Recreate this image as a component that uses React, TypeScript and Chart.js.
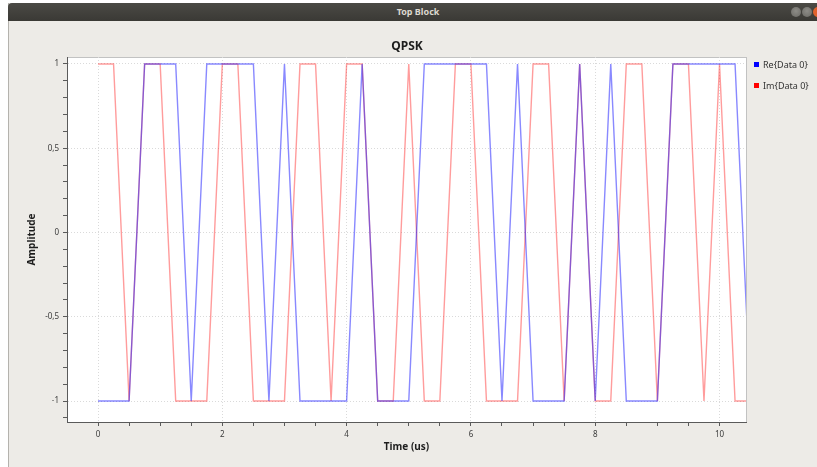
import React, { useEffect, useRef } from 'react';
import { Chart, registerables } from 'chart.js';

Chart.register(...registerables);

// ---- data ----
const SAMPLE_PERIOD_US = 0.25;
const RE_DATA = [
  -1, -1, -1, 1, 1, 1, -1, 1, 1, 1, 1, -1, 1, -1, -1, -1, -1, 1, -1, -1, -1,
  1, 1, 1, 1, 1, -1, 1, -1, -1, -1, 1, -1, 1, -1, -1, -1, 1, 1, 1, 1, 1, -1,
];
const IM_DATA = [
  1, 1, -1, 1, 1, -1, -1, -1, 1, 1, -1, -1, -1, 1, 1, -1, 1, 1, -1, -1, 1,
  -1, -1, 1, 1, -1, -1, -1, 1, 1, -1, 1, -1, -1, 1, 1, -1, 1, 1, -1, 1, -1, -1,
];
const SERIES_LABELS = ['Re{Data 0}', 'Im{Data 0}'];
const X_TICKS = [0, 0.5, 1, 1.5, 2, 2.5, 3, 3.5, 4, 4.5, 5, 5.5, 6, 6.5, 7, 7.5, 8, 8.5, 9, 9.5, 10];
const X_MAJOR = [0, 2, 4, 6, 8, 10];
const X_LABELS = ['0', '2', '4', '6', '8', '10'];
const Y_TICKS = [-1.1, -1, -0.9, -0.8, -0.7, -0.6, -0.5, -0.4, -0.3, -0.2, -0.1, 0, 0.1, 0.2, 0.3, 0.4, 0.5, 0.6, 0.7, 0.8, 0.9, 1];
const Y_MAJOR = [-1, -0.5, 0, 0.5, 1];
const Y_LABELS = ['-1', '-0,5', '0', '0,5', '1'];
const X_MIN = -0.499;
const X_MAX = 10.426;
const Y_MIN = -1.1246;
const Y_MAX = 1.0415;

const FONT = '"Noto Sans", "DejaVu Sans", sans-serif';
const GRID = '#dadada';
const AXIS = '#5a5a5a';

const near = (a: number, b: number) => Math.abs(a - b) < 1e-6;
const majorIndex = (list: number[], v: number) => list.findIndex((m) => near(m, v));

const canvasBg = {
  id: 'canvasBg',
  beforeDraw(chart: any) {
    const { ctx, chartArea: a } = chart;
    ctx.save();
    ctx.fillStyle = '#ffffff';
    ctx.fillRect(a.left, a.top, a.right - a.left, a.bottom - a.top);
    ctx.strokeStyle = '#c2c2c2';
    ctx.lineWidth = 1;
    ctx.strokeRect(a.left + 0.5, a.top + 0.5, a.right - a.left, a.bottom - a.top);
    ctx.restore();
  },
};

export default function App() {
  const ref = useRef<HTMLCanvasElement>(null);

  useEffect(() => {
    const canvas = ref.current;
    if (!canvas) return;
    const toPoints = (arr: number[]) => arr.map((v, i) => ({ x: i * SAMPLE_PERIOD_US, y: v }));
    const chart = new Chart(canvas, {
      type: 'line',
      data: {
        datasets: [
          {
            label: SERIES_LABELS[0],
            data: toPoints(RE_DATA),
            borderColor: 'rgba(20,20,255,0.5)',
            borderWidth: 1.4,
            pointRadius: 0,
            tension: 0,
          },
          {
            label: SERIES_LABELS[1],
            data: toPoints(IM_DATA),
            borderColor: 'rgba(255,20,20,0.42)',
            borderWidth: 1.4,
            pointRadius: 0,
            tension: 0,
          },
        ],
      },
      options: {
        animation: false,
        responsive: false,
        maintainAspectRatio: false,
        devicePixelRatio: 1,
        events: [],
        layout: { padding: { left: 8, top: 57, right: 71, bottom: 0 } },
        plugins: {
          legend: { display: false },
          title: { display: false },
          tooltip: { enabled: false },
        },
        scales: {
          x: {
            type: 'linear',
            position: 'bottom',
            min: X_MIN,
            max: X_MAX,
            afterFit: (s: any) => {
              s.height = 45;
            },
            afterBuildTicks: (s: any) => {
              s.ticks = X_TICKS.map((v) => ({ value: v }));
            },
            ticks: {
              autoSkip: false,
              maxRotation: 0,
              padding: 4,
              color: '#3a3a3a',
              font: { family: FONT, size: 8 },
              callback: (v: any) => {
                const i = majorIndex(X_MAJOR, Number(v));
                return i >= 0 ? X_LABELS[i] : '';
              },
            },
            grid: {
              color: (c: any) => (c.tick && majorIndex(X_MAJOR, c.tick.value) >= 0 ? GRID : 'rgba(0,0,0,0)'),
              tickColor: AXIS,
              tickLength: 4,
              lineWidth: 1,
            },
            border: { display: true, color: AXIS, width: 1, dash: [1, 2] },
            title: {
              display: true,
              text: 'Time (us)',
              color: '#1e1e1e',
              font: { family: FONT, size: 10, weight: 'bold' },
              padding: { top: 0, bottom: 14 },
            },
          },
          y: {
            type: 'linear',
            position: 'left',
            min: Y_MIN,
            max: Y_MAX,
            afterFit: (s: any) => {
              s.width = 59;
            },
            afterBuildTicks: (s: any) => {
              s.ticks = Y_TICKS.map((v) => ({ value: v }));
            },
            ticks: {
              autoSkip: false,
              padding: 4,
              color: '#3a3a3a',
              font: { family: FONT, size: 8 },
              callback: (v: any) => {
                const i = majorIndex(Y_MAJOR, Number(v));
                return i >= 0 ? Y_LABELS[i] : '';
              },
            },
            grid: {
              color: (c: any) => (c.tick && majorIndex(Y_MAJOR, c.tick.value) >= 0 ? GRID : 'rgba(0,0,0,0)'),
              tickColor: AXIS,
              tickLength: 4,
              lineWidth: 1,
            },
            border: { display: true, color: AXIS, width: 1, dash: [1, 2] },
            title: {
              display: true,
              text: 'Amplitude',
              color: '#1e1e1e',
              font: { family: FONT, size: 10, weight: 'bold' },
              padding: { top: 18, bottom: 0 },
            },
          },
        },
      },
      plugins: [canvasBg],
    } as any);
    return () => chart.destroy();
  }, []);

  return (
    <div
      style={{
        position: 'fixed',
        left: 0,
        top: 0,
        width: 817,
        height: 467,
        overflow: 'hidden',
        background: '#ffffff',
        fontFamily: FONT,
      }}
    >
      {/* window body */}
      <div
        style={{
          position: 'absolute',
          left: 8,
          top: 3,
          width: 830,
          height: 480,
          background: '#edebe7',
          borderLeft: '1px solid #b4b2ad',
          boxSizing: 'border-box',
        }}
      />
      {/* title bar */}
      <div
        style={{
          position: 'absolute',
          left: 8,
          top: 3,
          width: 830,
          height: 18,
          background: 'linear-gradient(#4b4a45, #3a3935)',
          borderTopLeftRadius: 4,
        }}
      />
      <div
        style={{
          position: 'absolute',
          left: 318,
          top: 3,
          width: 200,
          height: 18,
          lineHeight: '18px',
          textAlign: 'center',
          color: '#dcd8cf',
          fontSize: 9,
          fontWeight: 'bold',
        }}
      >
        Top Block
      </div>
      {[796, 807].map((cx) => (
        <div
          key={cx}
          style={{
            position: 'absolute',
            left: cx - 5,
            top: 7,
            width: 10,
            height: 10,
            borderRadius: 5,
            background: 'radial-gradient(circle at 50% 40%, #8d8c87, #6a6964)',
          }}
        />
      ))}
      <div
        style={{
          position: 'absolute',
          left: 813,
          top: 7,
          width: 10,
          height: 10,
          borderRadius: 5,
          background: '#e0622d',
        }}
      />
      <canvas
        ref={ref}
        width={817}
        height={467}
        style={{ position: 'absolute', left: 0, top: 0, width: 817, height: 467 }}
      />
      {/* plot title */}
      <div
        style={{
          position: 'absolute',
          left: 307,
          top: 38,
          width: 200,
          textAlign: 'center',
          fontSize: 12,
          fontWeight: 'bold',
          lineHeight: '16px',
          color: '#1e1e1e',
        }}
      >
        QPSK
      </div>
      {/* legend */}
      {SERIES_LABELS.map((lbl, i) => (
        <div
          key={lbl}
          style={{
            position: 'absolute',
            left: 754,
            top: 57 + i * 21,
            height: 14,
            display: 'flex',
            alignItems: 'center',
            fontSize: 9,
            color: '#333333',
            whiteSpace: 'nowrap',
          }}
        >
          <span
            style={{
              display: 'inline-block',
              width: 5,
              height: 5,
              background: i === 0 ? '#0000ff' : '#ff0000',
              marginRight: 4,
            }}
          />
          {lbl}
        </div>
      ))}
    </div>
  );
}
